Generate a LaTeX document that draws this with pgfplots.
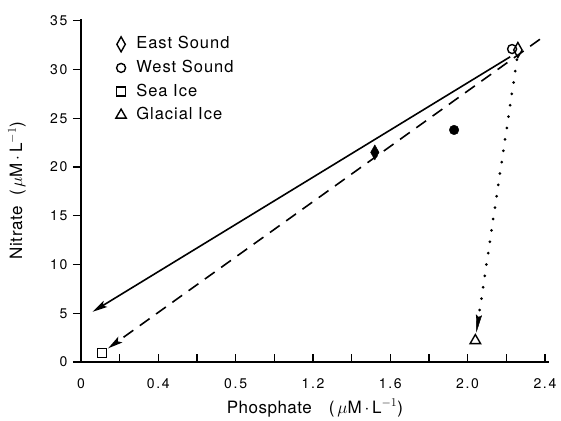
\documentclass[border=0pt]{standalone}
\usepackage{fontspec}
\setmainfont{TeX Gyre Heros}
\usepackage{pgfplots}
\pgfplotsset{compat=1.18}
\usetikzlibrary{arrows.meta}
\begin{document}
\begin{tikzpicture}
\path[use as bounding box] (-81pt,-58pt) rectangle (480pt,362pt);
\begin{axis}[
  at={(0pt,0pt)}, anchor=south west,
  scale only axis, width=467.8pt, height=343.2pt,
  xmin=0, xmax=2.42, ymin=0, ymax=35.2,
  axis x line=bottom, axis y line=left,
  axis line style={-, line width=1.4pt},
  xtick align=inside, ytick align=outside,
  major tick length=8pt, minor tick length=8pt,
  every tick/.style={line width=1.4pt, black},
  xtick={0,0.4,0.8,1.2,1.6,2.0,2.4},
  xticklabels={0,0.4,0.5,1.2,1.6,2.0,2.4},
  minor x tick num=1,
  ytick={0,5,10,15,20,25,30,35},
  /pgf/number format/assume math mode=true,
  tick label style={font=\fontsize{14}{16}\selectfont\addfontfeature{LetterSpace=12}},
  xticklabel style={yshift=-13pt},
  yticklabel style={xshift=-2pt},
  xlabel={Phosphate\quad(\,$\mu$M\,$\cdot$\,L$^{-1}$)},
  ylabel={Nitrate\ \ (\,$\mu$M\,$\cdot$\,L$^{-1}$)},
  label style={font=\fontsize{17}{19}\selectfont\addfontfeature{LetterSpace=3}},
  xlabel style={at={(axis description cs:0.5,0)}, anchor=center, yshift=-46pt},
  ylabel style={at={(axis description cs:0,0.5)}, anchor=center, yshift=64pt},
  legend style={draw=none, fill=none, inner sep=0pt, at={(axis description cs:0.072,0.951)}, anchor=north west,
    font=\fontsize{16.5}{18}\selectfont\addfontfeature{LetterSpace=6}, row sep=6.6pt, column sep=8pt,
    nodes={inner sep=1pt, text height=12pt, text depth=3pt}},
  legend cell align=left,
  legend image code/.code={\path (0pt,0pt) (12pt,0pt); \draw[mark repeat=2,mark phase=2,#1] plot coordinates {(0pt,0pt) (6pt,0pt) (12pt,0pt)};},
]
% lines
\addplot[forget plot, black, line width=1.6pt, -{Stealth[length=15pt,width=7pt,inset=3pt]}] coordinates {(2.22,31.3) (0.06,5.15)};
\addplot[forget plot, black, line width=1.6pt, dash pattern=on 12pt off 8pt, -{Stealth[length=15pt,width=7pt,inset=3pt]}] coordinates {(2.374,33.1) (0.14,1.4)};
\addplot[forget plot, black, line width=3pt, line cap=round, dash pattern=on 0pt off 11.5pt, -{Stealth[length=18pt,width=6pt,inset=2pt,line width=0.4pt]}] coordinates {(2.255,31.0) (2.045,3.0)};
% filled points
\addplot[forget plot, only marks, mark=diamond*, mark size=7.5pt, mark options={xscale=0.75, fill=black, draw=black}] coordinates {(1.52,21.5)};
\addplot[forget plot, only marks, mark=*, mark size=4.8pt, mark options={fill=black, draw=black}] coordinates {(1.93,23.8)};
% legend points
\addplot[only marks, mark=diamond, mark size=7.5pt, mark options={xscale=0.75, line width=1.4pt, draw=black, fill=white}] coordinates {(2.26,32.0)};
\addlegendentry{East Sound}
\addplot[only marks, mark=o, mark size=4.5pt, mark options={line width=1.4pt, draw=black}] coordinates {(2.23,32.1)};
\addlegendentry{West Sound}
\addplot[only marks, mark=square, mark size=4.5pt, mark options={line width=1.4pt, draw=black}] coordinates {(0.11,0.9)};
\addlegendentry{Sea Ice}
\addplot[only marks, mark=triangle, mark size=6pt, mark options={line width=1.4pt, draw=black}] coordinates {(2.04,2.2)};
\addlegendentry{Glacial Ice}
\end{axis}
\end{tikzpicture}
\end{document}
